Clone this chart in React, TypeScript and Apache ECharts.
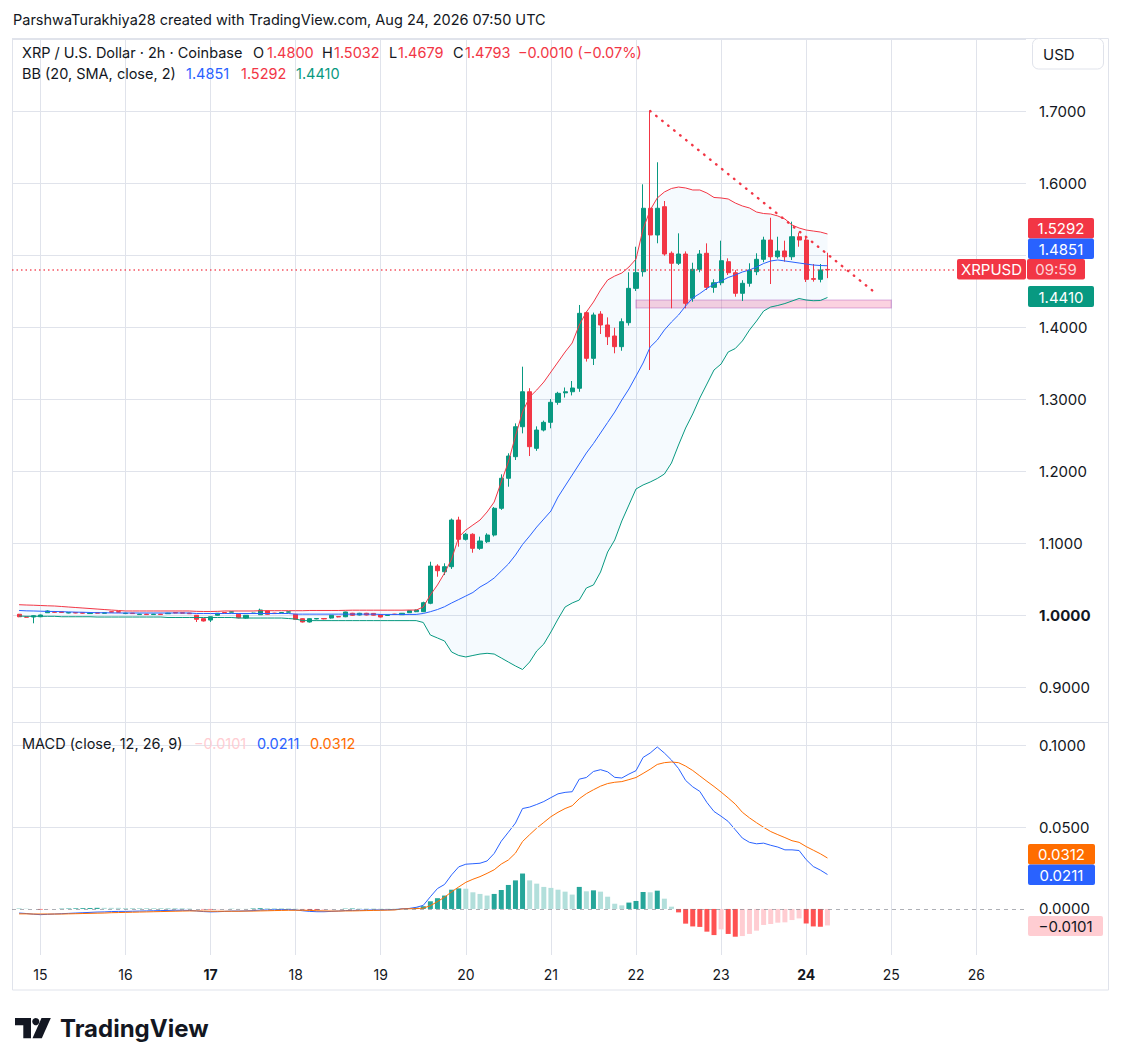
import React, { useEffect, useRef } from "react";
import * as echarts from "echarts";

// ---------- style constants ----------
const FONT = "Inter, 'Noto Sans', 'DejaVu Sans', sans-serif";
const TEXT = "#131722";
const UP = "#089981";
const DOWN = "#F23645";
const BLUE = "#2962FF";
const ORANGE = "#FF6D00";
const GRID = "#E0E3EB";
const LEGEND_SIZE = 14.5;
const AXIS_SIZE = 15;

// ---------- time slots (2h candles) ----------
const START_DAY = 14;
const START_HOUR = 16;
const SLOT_HOURS = 2;
const SLOT_COUNT = 144;
const BOLD_DAYS = [17, 24];

// ---------- candles (XRP/USD 2h) ----------
const OPEN = [
  1.0010, 0.9974, 0.9972, 0.9976, 1.0032, 1.0045, 1.0044, 1.0028, 1.0034, 1.0032,
  1.0020, 1.0032, 1.0024, 1.0045, 1.0046, 1.0020, 1.0026, 1.0006, 1.0012, 1.0006,
  1.0012, 1.0018, 1.0034, 1.0032, 1.0026, 0.9996, 0.9949, 0.9930, 0.9996, 1.0035,
  1.0040, 1.0010, 0.9958, 1.0022, 1.0004, 1.0056, 1.0026, 1.0030, 1.0040, 1.0010,
  0.9949, 0.9903, 0.9946, 0.9951, 0.9958, 0.9978, 0.9976, 1.0024, 1.0000, 1.0024,
  1.0022, 1.0004, 0.9994, 1.0012, 1.0004, 1.0032, 1.0046, 1.0046, 1.0163, 1.0680,
  1.0601, 1.0671, 1.1319, 1.1051, 1.1121, 1.0926, 1.1018, 1.1111, 1.1482, 1.1899,
  1.2199, 1.2615, 1.3101, 1.2315, 1.2569, 1.2676, 1.2954, 1.3085, 1.3101, 1.3149,
  1.4199, 1.3565, 1.4180, 1.4028, 1.3875, 1.3727, 1.4060, 1.4537, 1.4768, 1.5649,
  1.5278, 1.5671, 1.5024, 1.4885, 1.5014, 1.4399, 1.4801, 1.5024, 1.4551, 1.4615,
  1.4907, 1.4754, 1.4468, 1.4607, 1.4768, 1.4940, 1.5208, 1.4976, 1.5056, 1.4976,
  1.5254, 1.5208, 1.4672, 1.4662, 1.4800,
];
const HIGH = [
  1.0015, 0.9980, 0.9995, 1.0005, 1.0065, 1.0050, 1.0048, 1.0040, 1.0038, 1.0036,
  1.0032, 1.0036, 1.0036, 1.0050, 1.0050, 1.0030, 1.0030, 1.0016, 1.0016, 1.0016,
  1.0016, 1.0030, 1.0038, 1.0036, 1.0030, 1.0000, 0.9955, 0.9980, 1.0028, 1.0040,
  1.0050, 1.0015, 1.0000, 1.0032, 1.0088, 1.0060, 1.0030, 1.0040, 1.0050, 1.0015,
  0.9955, 0.9955, 0.9958, 0.9958, 1.0000, 0.9984, 1.0046, 1.0030, 1.0030, 1.0030,
  1.0028, 1.0010, 1.0006, 1.0016, 1.0028, 1.0065, 1.0075, 1.0185, 1.0740, 1.0705,
  1.0718, 1.1340, 1.1365, 1.1140, 1.1135, 1.1088, 1.1135, 1.1500, 1.1954, 1.2246,
  1.2662, 1.3449, 1.3150, 1.2620, 1.2700, 1.3000, 1.3100, 1.3160, 1.3250, 1.4306,
  1.4215, 1.4200, 1.4220, 1.4134, 1.3990, 1.4120, 1.4760, 1.5115, 1.5982, 1.7000,
  1.6288, 1.5750, 1.5050, 1.5301, 1.5050, 1.4893, 1.5069, 1.5162, 1.4662, 1.5199,
  1.4954, 1.4790, 1.4650, 1.4885, 1.5024, 1.5254, 1.5518, 1.5254, 1.5199, 1.5463,
  1.5310, 1.5245, 1.4875, 1.4875, 1.5032,
];
const LOW = [
  0.9970, 0.9965, 0.9885, 0.9970, 1.0028, 1.0032, 1.0030, 1.0024, 1.0024, 1.0020,
  1.0016, 1.0022, 1.0020, 1.0036, 1.0036, 1.0016, 1.0016, 1.0002, 1.0002, 1.0002,
  1.0002, 1.0014, 1.0024, 1.0020, 1.0014, 0.9903, 0.9910, 0.9903, 0.9990, 1.0026,
  1.0036, 0.9955, 0.9950, 1.0018, 1.0000, 1.0004, 1.0016, 1.0026, 1.0036, 0.9935,
  0.9896, 0.9896, 0.9940, 0.9940, 0.9950, 0.9968, 0.9970, 0.9990, 0.9995, 0.9995,
  0.9994, 0.9966, 0.9988, 1.0004, 1.0000, 1.0028, 1.0040, 1.0040, 1.0150, 1.0532,
  1.0555, 1.0640, 1.0949, 1.1035, 1.0865, 1.0905, 1.1000, 1.1090, 1.1460, 1.1782,
  1.2153, 1.2523, 1.2208, 1.2280, 1.2550, 1.2593, 1.2920, 1.3020, 1.3050, 1.3100,
  1.3520, 1.3472, 1.3903, 1.3750, 1.3635, 1.3670, 1.4020, 1.4500, 1.4700, 1.3403,
  1.5163, 1.4990, 1.4260, 1.4861, 1.4260, 1.4351, 1.4760, 1.4514, 1.4476, 1.4580,
  1.4722, 1.4421, 1.4361, 1.4560, 1.4720, 1.4900, 1.4597, 1.4950, 1.4907, 1.4931,
  1.5115, 1.4625, 1.4630, 1.4620, 1.4679,
];
const CLOSE = [
  0.9976, 0.9970, 0.9990, 1.0000, 1.0056, 1.0038, 1.0036, 1.0034, 1.0028, 1.0026,
  1.0027, 1.0026, 1.0032, 1.0040, 1.0040, 1.0026, 1.0020, 1.0012, 1.0006, 1.0012,
  1.0006, 1.0026, 1.0028, 1.0026, 1.0018, 0.9940, 0.9917, 0.9976, 1.0024, 1.0030,
  1.0044, 0.9962, 0.9996, 1.0026, 1.0069, 1.0010, 1.0020, 1.0034, 1.0044, 0.9940,
  0.9903, 0.9949, 0.9951, 0.9946, 0.9996, 0.9974, 1.0042, 0.9996, 1.0024, 1.0000,
  0.9998, 0.9972, 0.9998, 1.0008, 1.0024, 1.0060, 1.0069, 1.0171, 1.0680, 1.0615,
  1.0671, 1.1319, 1.1051, 1.1121, 1.0926, 1.1028, 1.1111, 1.1482, 1.1899, 1.2208,
  1.2615, 1.3101, 1.2338, 1.2569, 1.2676, 1.2954, 1.3079, 1.3101, 1.3153, 1.4190,
  1.3565, 1.4167, 1.4028, 1.3865, 1.3727, 1.4074, 1.4537, 1.4755, 1.5649, 1.5278,
  1.5649, 1.5014, 1.4885, 1.5014, 1.4329, 1.4801, 1.5014, 1.4551, 1.4615, 1.4921,
  1.4754, 1.4468, 1.4607, 1.4792, 1.4940, 1.5208, 1.4976, 1.5056, 1.4976, 1.5254,
  1.5208, 1.4662, 1.4662, 1.4792, 1.4793,
];

// ---------- Bollinger Bands (20, SMA, close, 2) ----------
const BB_UPPER = [
  1.0143, 1.0139, 1.0136, 1.0132, 1.0128, 1.0125, 1.0118, 1.0111, 1.0104, 1.0097,
  1.0090, 1.0083, 1.0076, 1.0069, 1.0063, 1.0056, 1.0056, 1.0056, 1.0056, 1.0056,
  1.0056, 1.0056, 1.0056, 1.0056, 1.0056, 1.0051, 1.0049, 1.0049, 1.0051, 1.0056,
  1.0056, 1.0056, 1.0056, 1.0056, 1.0060, 1.0060, 1.0060, 1.0060, 1.0060, 1.0060,
  1.0060, 1.0063, 1.0063, 1.0063, 1.0063, 1.0063, 1.0065, 1.0067, 1.0067, 1.0067,
  1.0067, 1.0067, 1.0067, 1.0067, 1.0067, 1.0069, 1.0069, 1.0111, 1.0278, 1.0417,
  1.0583, 1.0778, 1.1083, 1.1180, 1.1250, 1.1319, 1.1431, 1.1569, 1.1847, 1.2125,
  1.2486, 1.2819, 1.3028, 1.3125, 1.3236, 1.3375, 1.3514, 1.3653, 1.3778, 1.4028,
  1.4208, 1.4347, 1.4514, 1.4653, 1.4708, 1.4750, 1.4833, 1.4944, 1.5361, 1.5625,
  1.5792, 1.5875, 1.5924, 1.5944, 1.5931, 1.5903, 1.5903, 1.5861, 1.5799, 1.5792,
  1.5778, 1.5722, 1.5681, 1.5653, 1.5597, 1.5576, 1.5569, 1.5542, 1.5500, 1.5417,
  1.5375, 1.5347, 1.5333, 1.5319, 1.5292,
];
const BB_BASIS = [
  1.0063, 1.0058, 1.0056, 1.0053, 1.0050, 1.0049, 1.0046, 1.0043, 1.0040, 1.0038,
  1.0035, 1.0032, 1.0031, 1.0029, 1.0028, 1.0028, 1.0028, 1.0028, 1.0028, 1.0028,
  1.0028, 1.0028, 1.0028, 1.0028, 1.0028, 1.0021, 1.0021, 1.0021, 1.0021, 1.0021,
  1.0021, 1.0021, 1.0021, 1.0021, 1.0021, 1.0021, 1.0021, 1.0021, 1.0021, 1.0012,
  1.0012, 1.0012, 1.0012, 1.0012, 1.0012, 1.0012, 1.0012, 1.0012, 1.0012, 1.0012,
  1.0012, 1.0008, 1.0008, 1.0008, 1.0008, 1.0008, 1.0008, 1.0021, 1.0046, 1.0076,
  1.0115, 1.0167, 1.0215, 1.0264, 1.0313, 1.0389, 1.0444, 1.0514, 1.0611, 1.0708,
  1.0833, 1.0979, 1.1097, 1.1222, 1.1333, 1.1444, 1.1639, 1.1792, 1.1944, 1.2097,
  1.2250, 1.2382, 1.2528, 1.2674, 1.2819, 1.2986, 1.3139, 1.3319, 1.3500, 1.3722,
  1.3819, 1.3958, 1.4069, 1.4167, 1.4292, 1.4403, 1.4465, 1.4535, 1.4597, 1.4639,
  1.4688, 1.4722, 1.4764, 1.4792, 1.4833, 1.4882, 1.4917, 1.4931, 1.4917, 1.4903,
  1.4889, 1.4875, 1.4861, 1.4854, 1.4851,
];
const BB_LOWER = [
  0.9986, 0.9982, 0.9982, 0.9982, 0.9982, 0.9982, 0.9976, 0.9976, 0.9976, 0.9976,
  0.9976, 0.9972, 0.9972, 0.9972, 0.9972, 0.9972, 0.9972, 0.9972, 0.9972, 0.9972,
  0.9972, 0.9965, 0.9965, 0.9965, 0.9965, 0.9965, 0.9965, 0.9965, 0.9965, 0.9965,
  0.9965, 0.9958, 0.9958, 0.9958, 0.9958, 0.9958, 0.9958, 0.9958, 0.9951, 0.9944,
  0.9922, 0.9922, 0.9922, 0.9922, 0.9922, 0.9922, 0.9922, 0.9922, 0.9922, 0.9922,
  0.9922, 0.9922, 0.9922, 0.9922, 0.9922, 0.9922, 0.9922, 0.9896, 0.9722, 0.9681,
  0.9639, 0.9486, 0.9438, 0.9417, 0.9438, 0.9458, 0.9468, 0.9458, 0.9403, 0.9347,
  0.9292, 0.9243, 0.9347, 0.9500, 0.9597, 0.9764, 0.9944, 1.0111, 1.0167, 1.0208,
  1.0375, 1.0417, 1.0597, 1.0875, 1.1042, 1.1306, 1.1528, 1.1750, 1.1806, 1.1847,
  1.1896, 1.1958, 1.2111, 1.2361, 1.2597, 1.2792, 1.3014, 1.3208, 1.3403, 1.3486,
  1.3653, 1.3701, 1.3806, 1.3958, 1.4083, 1.4222, 1.4278, 1.4299, 1.4326, 1.4361,
  1.4396, 1.4375, 1.4365, 1.4368, 1.4410,
];

// ---------- MACD (close, 12, 26, 9) ----------
const MACD = [
  -0.0025, -0.0028, -0.0032, -0.0035, -0.0033, -0.0031, -0.0029, -0.0027, -0.0025, -0.0023,
  -0.0021, -0.0019, -0.0018, -0.0016, -0.0015, -0.0015, -0.0014, -0.0013, -0.0012, -0.0011,
  -0.0010, -0.0009, -0.0008, -0.0008, -0.0009, -0.0012, -0.0016, -0.0018, -0.0017, -0.0015,
  -0.0013, -0.0013, -0.0012, -0.0010, -0.0007, -0.0006, -0.0005, -0.0004, -0.0004, -0.0006,
  -0.0011, -0.0015, -0.0017, -0.0017, -0.0015, -0.0013, -0.0010, -0.0009, -0.0008, -0.0007,
  -0.0006, -0.0006, -0.0005, -0.0004, 0.0001, 0.0003, 0.0010, 0.0022, 0.0075, 0.0125,
  0.0150, 0.0209, 0.0258, 0.0274, 0.0277, 0.0280, 0.0294, 0.0340, 0.0415, 0.0470,
  0.0526, 0.0615, 0.0624, 0.0640, 0.0658, 0.0682, 0.0705, 0.0714, 0.0718, 0.0795,
  0.0805, 0.0842, 0.0853, 0.0840, 0.0806, 0.0802, 0.0826, 0.0847, 0.0928, 0.0955,
  0.0992, 0.0955, 0.0912, 0.0860, 0.0787, 0.0748, 0.0720, 0.0652, 0.0597, 0.0568,
  0.0536, 0.0485, 0.0434, 0.0408, 0.0399, 0.0403, 0.0390, 0.0379, 0.0362, 0.0362,
  0.0358, 0.0302, 0.0260, 0.0238, 0.0211,
];
const SIGNAL = [
  -0.0030, -0.0030, -0.0031, -0.0031, -0.0031, -0.0031, -0.0031, -0.0030, -0.0029, -0.0028,
  -0.0027, -0.0026, -0.0025, -0.0023, -0.0022, -0.0021, -0.0020, -0.0019, -0.0018, -0.0017,
  -0.0016, -0.0015, -0.0014, -0.0013, -0.0012, -0.0012, -0.0013, -0.0014, -0.0014, -0.0014,
  -0.0014, -0.0014, -0.0013, -0.0013, -0.0012, -0.0011, -0.0010, -0.0009, -0.0008, -0.0008,
  -0.0008, -0.0009, -0.0011, -0.0012, -0.0013, -0.0013, -0.0012, -0.0012, -0.0011, -0.0010,
  -0.0009, -0.0008, -0.0007, -0.0006, 0.0000, 0.0001, 0.0002, 0.0005, 0.0020, 0.0045,
  0.0072, 0.0105, 0.0135, 0.0163, 0.0182, 0.0198, 0.0218, 0.0240, 0.0275, 0.0300,
  0.0342, 0.0413, 0.0455, 0.0495, 0.0530, 0.0565, 0.0592, 0.0615, 0.0632, 0.0675,
  0.0706, 0.0730, 0.0752, 0.0768, 0.0776, 0.0780, 0.0792, 0.0805, 0.0830, 0.0856,
  0.0885, 0.0896, 0.0900, 0.0896, 0.0875, 0.0848, 0.0815, 0.0782, 0.0750, 0.0716,
  0.0680, 0.0642, 0.0592, 0.0558, 0.0528, 0.0500, 0.0474, 0.0455, 0.0437, 0.0418,
  0.0408, 0.0382, 0.0360, 0.0338, 0.0312,
];
const HIST = [
  0.0005, 0.0002, -0.0001, -0.0004, -0.0002, 0.0000, 0.0002, 0.0003, 0.0004, 0.0005,
  0.0006, 0.0007, 0.0007, 0.0007, 0.0007, 0.0006, 0.0006, 0.0006, 0.0006, 0.0006,
  0.0006, 0.0006, 0.0006, 0.0005, 0.0003, 0.0000, -0.0003, -0.0004, -0.0003, -0.0001,
  0.0001, 0.0001, 0.0001, 0.0003, 0.0005, 0.0005, 0.0005, 0.0005, 0.0004, 0.0002,
  -0.0003, -0.0006, -0.0006, -0.0005, -0.0002, 0.0000, 0.0002, 0.0003, 0.0003, 0.0003,
  0.0003, 0.0002, 0.0002, 0.0002, 0.0001, 0.0002, 0.0008, 0.0017, 0.0047, 0.0066,
  0.0082, 0.0118, 0.0126, 0.0124, 0.0102, 0.0092, 0.0082, 0.0092, 0.0116, 0.0147,
  0.0175, 0.0217, 0.0175, 0.0155, 0.0135, 0.0129, 0.0118, 0.0106, 0.0088, 0.0135,
  0.0108, 0.0114, 0.0106, 0.0075, 0.0032, 0.0022, 0.0039, 0.0049, 0.0104, 0.0102,
  0.0112, 0.0063, 0.0014, -0.0021, -0.0090, -0.0107, -0.0110, -0.0139, -0.0160, -0.0125,
  -0.0153, -0.0170, -0.0166, -0.0153, -0.0133, -0.0098, -0.0092, -0.0084, -0.0082, -0.0068,
  -0.0058, -0.0089, -0.0107, -0.0109, -0.0101,
];

// ---------- axes, drawings, header ----------
const PRICE_MIN = 0.8514;
const PRICE_MAX = 1.8014;
const PRICE_STEP = 0.1;
const PRICE_HIDDEN_LABELS = [1.5, 1.8];
const MACD_MIN = -0.0282;
const MACD_MAX = 0.1145;
const MACD_STEP = 0.05;
const MACD_GRID_LEVELS = [0.05, 0.1];
const TREND_LINE = [[90, 1.7], [122, 1.4454]];
const ZONE_FROM = [88, 1.4375];
const ZONE_TO = [124, 1.4264];
const CHANGE = -0.001;
const CHANGE_PCT = -0.07;
const TIMER = "09:59";
const HEADER = "ParshwaTurakhiya28 created with TradingView.com, Aug 24, 2026 07:50 UTC";
const SYMBOL_TITLE = "XRP / U.S. Dollar · 2h · Coinbase";
const BB_TITLE = "BB (20, SMA, close, 2)";
const MACD_TITLE = "MACD (close, 12, 26, 9)";

const CATEGORIES = Array.from({ length: SLOT_COUNT }, (_, c) => {
  const h = START_HOUR + SLOT_HOURS * c;
  const day = START_DAY + Math.floor(h / 24);
  const hh = String(h % 24).padStart(2, "0");
  return `${day} ${hh}:00`;
});

const fmt = (v: number) => (v < 0 ? "\u2212" : "") + Math.abs(v).toFixed(4);
const last = (a: number[]) => a[a.length - 1];
const isDayStart = (_i: number, v: string) => v.endsWith(" 00:00");

function histColor(v: number, prev: number) {
  if (v >= 0) return v > prev ? "#26A69A" : "#B2DFDB";
  return v > prev ? "#FFCDD2" : "#FF5252";
}

function txt(x: number, y: number, text: string, fill: string = TEXT, size = LEGEND_SIZE, weight = "normal", align = "left") {
  return {
    type: "text",
    x,
    y,
    z: 100,
    style: {
      text,
      fill,
      font: `${weight} ${size}px ${FONT}`,
      align,
      textAlign: align,
      verticalAlign: "middle",
      textVerticalAlign: "middle",
    },
  };
}

function tag(x: number, y: number, w: number, h: number, fill: string, text: string, color = "#ffffff") {
  return {
    type: "group",
    z: 100,
    children: [
      { type: "rect", z: 100, shape: { x, y, width: w, height: h, r: 2 }, style: { fill } },
      txt(x + w / 2, y + h / 2 + 0.5, text, color, AXIS_SIZE, "normal", "center"),
    ],
  };
}

function buildOption() {
  const candleData = [["-", "-", "-", "-"], ...OPEN.map((o, i) => [o, CLOSE[i], LOW[i], HIGH[i]])];
  const pad = (a: number[]) => ["-", ...a];
  const bandWidth = BB_UPPER.map((u, i) => +(u - BB_LOWER[i]).toFixed(4));
  const histData = [
    "-",
    ...HIST.map((v, i) => ({ value: v, itemStyle: { color: histColor(v, i === 0 ? v : HIST[i - 1]) } })),
  ];

  const lineBase = { type: "line", showSymbol: false, symbol: "none", silent: true };

  const graphic: any[] = [
    // frame
    { type: "rect", z: 0, shape: { x: 12.5, y: 38.5, width: 1096, height: 951.5 }, style: { fill: "none", stroke: GRID, lineWidth: 1 } },
    { type: "line", z: 0, shape: { x1: 12, y1: 722.5, x2: 1109, y2: 722.5 }, style: { stroke: GRID, lineWidth: 1 } },
    // header
    txt(13, 19, HEADER, TEXT),
    // legend line 1
    txt(22, 52, SYMBOL_TITLE, TEXT),
    txt(253, 52, "O", TEXT),
    txt(267, 52, last(OPEN).toFixed(4), DOWN),
    txt(322, 52, "H", TEXT),
    txt(334, 52, last(HIGH).toFixed(4), DOWN),
    txt(389, 52, "L", TEXT),
    txt(398, 52, last(LOW).toFixed(4), DOWN),
    txt(453, 52, "C", TEXT),
    txt(465, 52, last(CLOSE).toFixed(4), DOWN),
    txt(518, 52, `${fmt(CHANGE)} (${CHANGE_PCT < 0 ? "\u2212" : ""}${Math.abs(CHANGE_PCT).toFixed(2)}%)`, DOWN),
    // legend line 2
    txt(22, 73, BB_TITLE, TEXT),
    txt(186, 73, last(BB_BASIS).toFixed(4), BLUE),
    txt(241, 73, last(BB_UPPER).toFixed(4), DOWN),
    txt(296, 73, last(BB_LOWER).toFixed(4), UP),
    // MACD legend
    txt(22, 743, MACD_TITLE, TEXT),
    txt(194, 743, fmt(last(HIST)), "#FFCDD2"),
    txt(257, 743, fmt(last(MACD)), BLUE),
    txt(310, 743, fmt(last(SIGNAL)), ORANGE),
    // currency box
    { type: "rect", z: 100, shape: { x: 1032.5, y: 38.5, width: 71, height: 30.5, r: 6 }, style: { fill: "#ffffff", stroke: GRID, lineWidth: 1 } },
    txt(1043, 54, "USD", TEXT, AXIS_SIZE),
    // price tags
    tag(1028, 218, 66, 20.5, DOWN, fmt(last(BB_UPPER))),
    tag(1028, 238.5, 66, 20.5, BLUE, fmt(last(BB_BASIS))),
    tag(957, 259, 69, 20.5, DOWN, "XRPUSD"),
    tag(1027, 259, 58, 20.5, DOWN, TIMER, "rgba(255,255,255,0.8)"),
    tag(1028, 286, 66, 21, UP, fmt(last(BB_LOWER))),
    tag(1028, 844, 67, 20.5, ORANGE, fmt(last(SIGNAL))),
    tag(1028, 864.5, 67, 20.5, BLUE, fmt(last(MACD))),
    tag(1028, 916, 75, 20, "#FFCDD2", fmt(last(HIST)), TEXT),
    // TradingView logo
    {
      type: "polygon", z: 100,
      shape: { points: [[15, 1018], [31, 1018], [31, 1038.3], [23.3, 1038.3], [23.3, 1025.2], [15, 1025.2]] },
      style: { fill: TEXT },
    },
    { type: "circle", z: 100, shape: { cx: 35.8, cy: 1021.6, r: 3.6 }, style: { fill: TEXT } },
    {
      type: "polygon", z: 100,
      shape: { points: [[41.5, 1018], [50.8, 1018], [41.8, 1038.3], [32.5, 1038.3]] },
      style: { fill: TEXT },
    },
    txt(60, 1028.5, "TradingView", TEXT, 24, "bold"),
  ];

  return {
    animation: false,
    backgroundColor: "#ffffff",
    textStyle: { fontFamily: FONT },
    grid: [
      { left: 12, top: 38, width: 1014, height: 684 },
      { left: 12, top: 722, width: 1014, height: 233 },
    ],
    xAxis: [
      {
        type: "category", gridIndex: 0, data: CATEGORIES, boundaryGap: false,
        axisLine: { show: false }, axisTick: { show: false }, axisLabel: { show: false },
        splitLine: { show: true, interval: isDayStart, lineStyle: { color: GRID, width: 1 } },
      },
      {
        type: "category", gridIndex: 1, data: CATEGORIES, boundaryGap: false,
        axisLine: { show: false }, axisTick: { show: false },
        axisLabel: {
          show: true, interval: isDayStart, color: TEXT, fontSize: 14, fontFamily: FONT, margin: 12,
          formatter: (value: string) => {
            const [d, t] = value.split(" ");
            if (t !== "00:00") return "";
            return BOLD_DAYS.includes(+d) ? `{b|${d}}` : d;
          },
          rich: { b: { fontWeight: "bold", fontSize: 14, fontFamily: FONT, color: TEXT } },
        },
        splitLine: { show: true, interval: isDayStart, lineStyle: { color: GRID, width: 1 } },
      },
    ],
    yAxis: [
      {
        type: "value", gridIndex: 0, position: "right", min: PRICE_MIN, max: PRICE_MAX,
        minInterval: PRICE_STEP, maxInterval: PRICE_STEP,
        axisLine: { show: false }, axisTick: { show: false },
        splitLine: { show: true, lineStyle: { color: GRID, width: 1 } },
        axisLabel: {
          showMinLabel: false, showMaxLabel: false, margin: 13, color: TEXT, fontSize: AXIS_SIZE, fontFamily: FONT,
          formatter: (v: number) => {
            if (PRICE_HIDDEN_LABELS.some((h) => Math.abs(v - h) < 1e-6)) return "";
            if (v < PRICE_MIN + 0.01 || v > PRICE_MAX - 0.01) return "";
            const s = v.toFixed(4);
            return Math.abs(v - 1) < 1e-6 ? `{b|${s}}` : s;
          },
          rich: { b: { fontWeight: "bold", fontSize: AXIS_SIZE, fontFamily: FONT, color: TEXT } },
        },
      },
      {
        type: "value", gridIndex: 1, position: "right", min: MACD_MIN, max: MACD_MAX,
        minInterval: MACD_STEP, maxInterval: MACD_STEP,
        axisLine: { show: false }, axisTick: { show: false }, splitLine: { show: false },
        axisLabel: {
          showMinLabel: false, showMaxLabel: false, margin: 13, color: TEXT, fontSize: AXIS_SIZE, fontFamily: FONT,
          formatter: (v: number) => (v < MACD_MIN + 0.005 || v > MACD_MAX - 0.005 ? "" : Math.abs(v).toFixed(4)),
        },
      },
    ],
    series: [
      { ...lineBase, name: "bbBase", xAxisIndex: 0, yAxisIndex: 0, data: pad(BB_LOWER), stack: "bb", lineStyle: { opacity: 0 }, z: 1 },
      {
        ...lineBase, name: "bbFill", xAxisIndex: 0, yAxisIndex: 0, data: pad(bandWidth), stack: "bb",
        lineStyle: { opacity: 0 }, areaStyle: { color: "rgba(33,150,243,0.06)" }, z: 1,
      },
      {
        type: "candlestick", name: "XRPUSD", xAxisIndex: 0, yAxisIndex: 0, data: candleData, barWidth: 4.6,
        itemStyle: { color: UP, color0: DOWN, borderColor: UP, borderColor0: DOWN, borderWidth: 1 },
        z: 2,
        markLine: {
          silent: true, symbol: ["none", "none"], label: { show: false },
          lineStyle: { color: DOWN, type: [1.5, 3], width: 1.5, opacity: 0.85 },
          data: [{ yAxis: last(CLOSE) }],
        },
        markArea: {
          silent: true,
          itemStyle: { color: "rgba(233,30,99,0.2)", borderColor: "rgba(156,39,176,0.35)", borderWidth: 1.2 },
          data: [[{ coord: ZONE_FROM }, { coord: ZONE_TO }]],
        },
      },
      { ...lineBase, name: "upper", xAxisIndex: 0, yAxisIndex: 0, data: pad(BB_UPPER), lineStyle: { color: DOWN, width: 1 }, z: 3 },
      { ...lineBase, name: "basis", xAxisIndex: 0, yAxisIndex: 0, data: pad(BB_BASIS), lineStyle: { color: BLUE, width: 1 }, z: 3 },
      { ...lineBase, name: "lower", xAxisIndex: 0, yAxisIndex: 0, data: pad(BB_LOWER), lineStyle: { color: UP, width: 1 }, z: 3 },
      {
        ...lineBase, name: "trend", xAxisIndex: 0, yAxisIndex: 0, data: TREND_LINE,
        lineStyle: { color: DOWN, width: 2.4, type: [0.5, 7.2], cap: "round" }, z: 4,
      },
      {
        type: "bar", name: "hist", xAxisIndex: 1, yAxisIndex: 1, data: histData, barWidth: 5, silent: true, z: 2,
        markLine: {
          silent: true, symbol: ["none", "none"], label: { show: false },
          data: [
            ...MACD_GRID_LEVELS.map((l) => ({ yAxis: l, lineStyle: { color: GRID, type: "solid", width: 1 } })),
            { yAxis: 0, lineStyle: { color: "rgba(120,123,134,0.6)", type: [4, 4], width: 1 } },
          ],
        },
      },
      { ...lineBase, name: "macd", xAxisIndex: 1, yAxisIndex: 1, data: pad(MACD), lineStyle: { color: BLUE, width: 1 }, z: 3 },
      { ...lineBase, name: "signal", xAxisIndex: 1, yAxisIndex: 1, data: pad(SIGNAL), lineStyle: { color: ORANGE, width: 1 }, z: 3 },
    ],
    graphic,
  };
}

export default function App() {
  const ref = useRef<HTMLDivElement>(null);
  useEffect(() => {
    if (!ref.current) return;
    const chart = echarts.init(ref.current, undefined, { renderer: "svg" });
    chart.setOption(buildOption() as any);
    return () => chart.dispose();
  }, []);
  return (
    <div
      ref={ref}
      style={{ position: "fixed", left: 0, top: 0, width: 1122, height: 1064, background: "#ffffff" }}
    />
  );
}
